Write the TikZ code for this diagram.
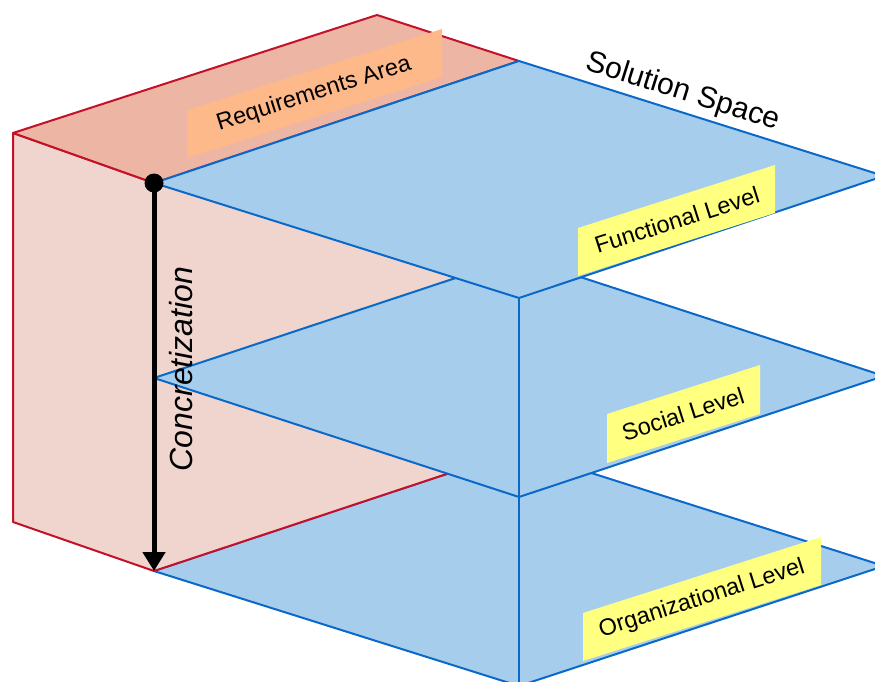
\documentclass[tikz,border=0pt]{standalone}
\usepackage{fontspec}
\setmainfont{Liberation Sans}
\usetikzlibrary{arrows.meta}
\definecolor{redline}{RGB}{196,16,40}
\definecolor{topface}{RGB}{237,181,163}
\definecolor{frontface}{RGB}{240,213,206}
\definecolor{blueline}{RGB}{10,105,200}
\definecolor{bluefill}{RGB}{167,205,237}
\definecolor{orangelab}{RGB}{253,185,137}
\definecolor{yellowlab}{RGB}{255,255,128}
\begin{document}
\begin{tikzpicture}[x=1pt,y=-1pt,
  redface/.style={draw=redline, line width=2pt, line join=round},
  plane/.style={fill=bluefill, draw=blueline, line width=2pt, line join=round},
  lab/.style={font=\fontsize{23.5}{27}\selectfont, inner sep=0pt},
]
\useasboundingbox (0,0) rectangle (875,682);
\clip (0,0) rectangle (875,682);
% box corners
\coordinate (TL) at (13,133);
\coordinate (TB) at (377,15);
\coordinate (TR) at (519,61);
\coordinate (TF) at (154,183);
\coordinate (BL) at (13,522);
\coordinate (BF) at (154,571);
\coordinate (BR) at (519,450);
% planes
\coordinate (F1) at (519,298);
\coordinate (R1) at (884,176);
\coordinate (L2) at (154,378);
\coordinate (B2) at (519,257);
\coordinate (F2) at (519,497);
\coordinate (R2) at (884,376);
\coordinate (F3) at (519,686);
\coordinate (R3) at (884,566);
% bottom plane
\path[plane] (BF) -- (BR) -- (R3) -- (F3) -- cycle;
% requirements box
\path[redface, fill=frontface] (TF) -- (TR) -- (BR) -- (BF) -- cycle;
\path[redface, fill=frontface] (TL) -- (TF) -- (BF) -- (BL) -- cycle;
\path[redface, fill=topface] (TL) -- (TB) -- (TR) -- (TF) -- cycle;
% middle and top planes
\path[plane] (L2) -- (B2) -- (R2) -- (F2) -- cycle;
\path[plane] (TF) -- (TR) -- (R1) -- (F1) -- cycle;
\draw[blueline, line width=2pt] (F1) -- (F3);
% labels
\fill[orangelab] (187,110) -- (442,29) -- (442,77) -- (187,158) -- cycle;
\node[lab, rotate=17.6] (req) at (314,94) {Requirements Area};
\fill[yellowlab] (578,228) -- (775,165) -- (775,213) -- (578,276) -- cycle;
\node[lab, rotate=17.6] (fun) at (677,220) {Functional Level};
\fill[yellowlab] (607,414) -- (760,365) -- (760,414) -- (607,463) -- cycle;
\node[lab, rotate=17.6] (soc) at (683,414) {Social Level};
\fill[yellowlab] (583,613) -- (821,537) -- (821,585) -- (583,661) -- cycle;
\node[lab, rotate=17.6] (org) at (702,599) {Organizational Level};
\node[font=\fontsize{30}{34}\selectfont, rotate=-17.5, inner sep=0pt] (sol) at (683,92) {Solution Space};
% concretization arrow
\draw[line width=5pt, -{Triangle[width=22pt,length=19pt]}] (TF) -- (BF);
\fill (TF) circle (9.5);
\node[font=\fontsize{32}{36}\selectfont\itshape, rotate=90, inner sep=0pt] (conc) at (181,369) {Concretization};
\end{tikzpicture}
\end{document}
